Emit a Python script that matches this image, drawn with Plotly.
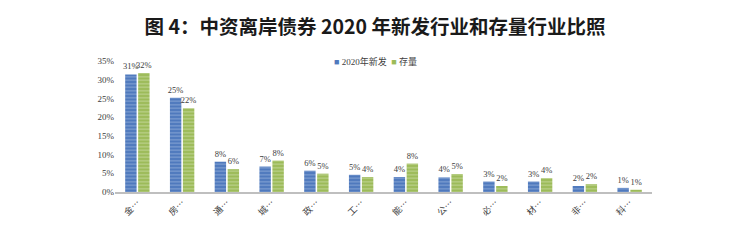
import plotly.graph_objects as go

categories = ["金融", "房地产", "通信", "城投", "政府", "工业", "能源", "公用事业", "必需消费", "材料", "非必需消费", "科技"]
tick_labels = ["金…", "房…", "通…", "城…", "政…", "工…", "能…", "公…", "必…", "材…", "非…", "科…"]
new_2020 = [0.314, 0.252, 0.081, 0.068, 0.057, 0.046, 0.040, 0.039, 0.028, 0.028, 0.016, 0.011]
stock = [0.318, 0.224, 0.061, 0.084, 0.049, 0.040, 0.076, 0.048, 0.016, 0.037, 0.021, 0.006]
series_names = ["2020年新发", "存量"]
series_colors = ["#4f79bd", "#9cbb59"]
stripe_colors = ["#aec3e6", "#d8e6bb"]

serif = "Liberation Serif, Noto Sans CJK SC, serif"
label_font = dict(family=serif, size=8.5, color="#404040")

fig = go.Figure()
for vals, name, col, scol in zip([new_2020, stock], series_names, series_colors, stripe_colors):
    fig.add_trace(go.Bar(
        x=categories, y=vals, name=name, showlegend=False,
        marker=dict(color=col, line=dict(width=0),
                    pattern=dict(shape="-", fgcolor=scol, size=3.5, solidity=0.35)),
        texttemplate="%{y:.0%}", textposition="outside", constraintext="none",
        textfont=label_font, outsidetextfont=label_font, cliponaxis=False,
    ))

legend_text = (f"<span style='color:{series_colors[0]}'>■</span> {series_names[0]}  "
               f"<span style='color:{series_colors[1]}'>■</span> {series_names[1]}")
fig.add_annotation(
    text=legend_text, xref="paper", yref="paper", x=0.405, y=1.0,
    xanchor="left", yanchor="middle", showarrow=False,
    font=dict(family="Liberation Serif, Noto Sans CJK SC", size=9, color="#404040"),
)

fig.update_layout(
    width=750, height=242,
    margin=dict(l=115, r=98, t=61, b=50),
    paper_bgcolor="white", plot_bgcolor="white",
    barmode="group", bargap=0.42, bargroupgap=0.12,
    title=dict(text="<b>图 4：中资离岸债券 2020 年新发行业和存量行业比照</b>",
               x=0.5, xanchor="center", y=0.888, yanchor="middle",
               font=dict(family="Noto Sans CJK SC", size=19.5, color="#1a1a1a")),
    showlegend=False,
)
fig.update_xaxes(
    tickmode="array", tickvals=categories, ticktext=tick_labels, tickangle=-45,
    showline=True, linecolor="#bfbfbf", linewidth=2, showgrid=False, ticks="",
    tickfont=dict(family="Noto Sans CJK SC", size=9, color="#404040"),
)
fig.update_yaxes(
    range=[0, 0.35], dtick=0.05, tickformat=".0%", showgrid=False, zeroline=False,
    showline=False, ticks="",
    tickfont=dict(family=serif, size=9, color="#404040"),
)

fig.write_html("out.html")
